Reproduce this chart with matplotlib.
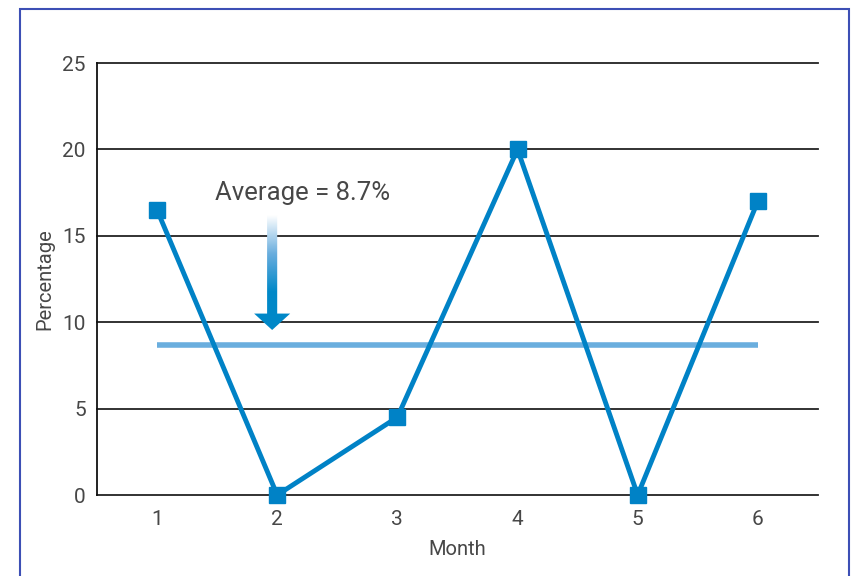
import numpy as np
import matplotlib.pyplot as plt
from matplotlib.patches import Polygon, Rectangle
from matplotlib.colors import LinearSegmentedColormap

# monthly percentages
months = [1, 2, 3, 4, 5, 6]
percent = [16.5, 0, 4.5, 20, 0, 17]
average = 8.7
avg_label = "Average = 8.7%"

plt.rcParams['font.family'] = ['Roboto', 'DejaVu Sans']

line_col = '#0082c6'
avg_col = '#6aaede'
text_col = '#474747'

fig = plt.figure(figsize=(8.52, 5.76), dpi=100)
ax = fig.add_axes([0.1138, 0.1406, 0.8462, 0.75])

# frame round the whole chart
fig.patches.append(Rectangle((20/852, -0.01), 829/852, 1 - 9/576 + 0.01,
                             transform=fig.transFigure, fill=False,
                             edgecolor='#3d4fb5', linewidth=1.5))

ax.set_xlim(0.5, 6.5)
ax.set_ylim(0, 25)
ax.set_yticks(range(0, 26, 5))
ax.set_xticks(months)
for y in range(0, 26, 5):
    ax.axhline(y, color='#222222', linewidth=1.3, zorder=1, clip_on=False)
for s in ['top', 'right', 'bottom']:
    ax.spines[s].set_visible(False)
ax.spines['left'].set_color('#111111')
ax.spines['left'].set_linewidth(1.3)
ax.tick_params(length=0, labelsize=15, labelcolor=text_col, pad=8)
ax.tick_params(axis='x', pad=11)

ax.plot([months[0], months[-1]], [average, average], color=avg_col,
        linewidth=4, zorder=2, solid_capstyle='butt')
ax.plot(months, percent, color=line_col, linewidth=3.5, marker='s',
        markersize=11, zorder=3, clip_on=False)

# gradient arrow pointing at the average line
ax_x, shaft_top, head_top, tip = 1.958, 16.2, 10.5, 9.55
sw, hw = 0.042, 0.15
arrow = Polygon([(ax_x - sw, shaft_top), (ax_x + sw, shaft_top),
                 (ax_x + sw, head_top), (ax_x + hw, head_top),
                 (ax_x, tip), (ax_x - hw, head_top), (ax_x - sw, head_top)],
                closed=True, facecolor='none', edgecolor='none')
ax.add_patch(arrow)
cmap = LinearSegmentedColormap.from_list('arr', ['#ffffff', '#6aaede', '#0088c8', '#0088c8'])
grad = np.linspace(0, 1, 256).reshape(-1, 1)
im = ax.imshow(grad, cmap=cmap, aspect='auto', origin='upper',
               extent=(ax_x - hw, ax_x + hw, tip, shaft_top), zorder=4)
im.set_clip_path(arrow)

ax.text(2.21, 17.5, avg_label, ha='center', va='center', fontsize=18.5,
        color=text_col)

ax.set_xlabel("Month", fontsize=14.5, color=text_col, labelpad=8)
ax.set_ylabel("Percentage", fontsize=14.5, color=text_col, labelpad=6)

fig.savefig("out.png", dpi=100)
